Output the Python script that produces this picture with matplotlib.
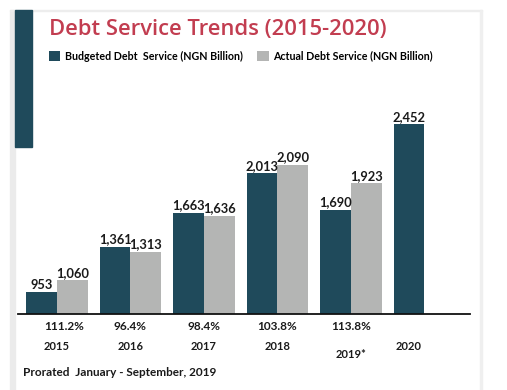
import matplotlib
matplotlib.use("Agg")
import matplotlib.pyplot as plt
import matplotlib.transforms as mtransforms
from matplotlib.patches import Rectangle, Patch
import numpy as np

years = ["2015", "2016", "2017", "2018", "2019*", "2020"]
budgeted = [953, 1361, 1663, 2013, 1690, 2452]
actual = [1060, 1313, 1636, 2090, 1923, None]
ratio_labels = ["111.2%", "96.4%", "98.4%", "103.8%", "113.8%", ""]
value_labels_b = ["953", "1,361", "1,663", "2,013", "1,690", "2,452"]
value_labels_a = ["1,060", "1,313", "1,636", "2,090", "1,923", ""]
title = "Debt Service Trends (2015-2020)"
legend_labels = ["Budgeted Debt  Service (NGN Billion)", "Actual Debt Service (NGN Billion)"]
footnote = "Prorated  January - September, 2019"

TEAL = "#1f4a5b"
GRAY = "#b4b5b4"
RED = "#c23d50"
FONT = "Lato"

W, H = 507, 390
fig = plt.figure(figsize=(W / 100, H / 100), dpi=100)
fig.patch.set_facecolor("white")

def fx(px):
    return px / W

def fy(py):
    return 1 - py / H

# frame
fig.patches.append(Rectangle((fx(10), 0), fx(5), fy(10), transform=fig.transFigure,
                             color="#ebebeb", zorder=0))
fig.patches.append(Rectangle((fx(10), fy(11)), fx(472), 1 / H, transform=fig.transFigure,
                             color="#ededed", zorder=0))
fig.patches.append(Rectangle((fx(480), 0), fx(2), fy(10), transform=fig.transFigure,
                             color="#efefef", zorder=0))
fig.patches.append(Rectangle((fx(15), fy(147)), fx(17), (147 - 10) / H,
                             transform=fig.transFigure, color=TEAL, zorder=1))

# axes
ax_left, ax_right = 18, 470
base_y = 314
top_y = 114
ax = fig.add_axes([fx(ax_left), fy(base_y), fx(ax_right - ax_left), (base_y - top_y) / H])
ax.set_facecolor("none")

x = np.arange(len(years))
w = 0.42
ax.bar(x - w / 2, budgeted, width=w, color=TEAL, zorder=2)
act_vals = [v if v is not None else 0 for v in actual]
ax.bar(x[:5] + w / 2, act_vals[:5], width=w, color=GRAY, zorder=2)

ax.set_xlim(-0.53, 5.62)
ax.set_ylim(760, 760 + (base_y - top_y) / 0.1123)
for s in ["top", "right", "left"]:
    ax.spines[s].set_visible(False)
ax.spines["bottom"].set_linewidth(1.3)
ax.spines["bottom"].set_color("#111111")
ax.set_xticks([])
ax.set_yticks([])

lab_kw = dict(ha="center", va="bottom", fontsize=9.3, fontweight="bold",
              family=FONT, color="#1a1a1a", textcoords="offset points", xytext=(0, 1))
for i in range(len(years)):
    ax.annotate(value_labels_b[i], (x[i] - w / 2, budgeted[i]), **lab_kw)
    if actual[i] is not None:
        ax.annotate(value_labels_a[i], (x[i] + w / 2, actual[i]), **lab_kw)

trans = mtransforms.blended_transform_factory(ax.transData, fig.transFigure)
for i in range(len(years)):
    if ratio_labels[i]:
        ax.text(x[i] + (0.1 if i == 0 else 0), fy(326), ratio_labels[i], transform=trans,
                ha="center", va="center", fontsize=8.5, fontweight="bold",
                family=FONT, color="#1a1a1a")
    xx = x[i] if actual[i] is not None else x[i] - w / 2
    yy = 354 if years[i].endswith("*") else 347
    ax.text(xx, fy(yy), years[i], transform=trans, ha="center", va="center",
            fontsize=8, fontweight="bold", family=FONT, color="#1a1a1a")

fig.text(fx(23), fy(373), footnote, ha="left", va="center", fontsize=8.5,
         fontweight="bold", family=FONT, color="#1a1a1a")

fig.text(fx(49), fy(30), title, ha="left", va="center", fontsize=15.8,
         fontweight="semibold", family="Open Sans", color=RED)

handles = [Patch(facecolor=TEAL, edgecolor="none"), Patch(facecolor=GRAY, edgecolor="none")]
fig.legend(handles, legend_labels, loc="center left", bbox_to_anchor=(fx(49), fy(56)),
           ncol=2, frameon=False, handlelength=1.05, handleheight=1.1,
           handletextpad=0.4, columnspacing=1.4, borderpad=0, borderaxespad=0,
           prop=dict(family=FONT, weight="bold", size=7.7))

fig.savefig("out.png", dpi=100, facecolor="white")
